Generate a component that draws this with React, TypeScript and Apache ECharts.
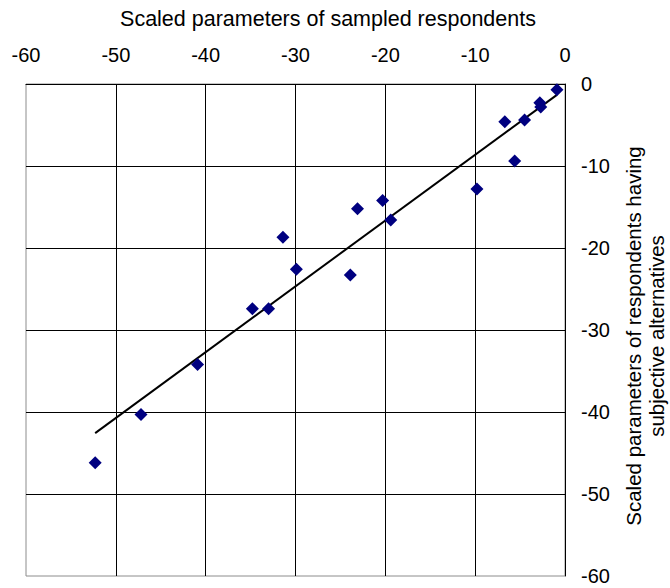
import React, { useEffect, useRef } from "react";
import * as echarts from "echarts";

const xTitle = "Scaled parameters of sampled respondents";
const yTitle = "Scaled parameters of respondents having\nsubjective alternatives";

const xValues = [-52.3, -47.2, -40.9, -34.8, -33.0, -31.4, -29.9, -23.9, -23.1, -20.3, -19.4, -9.8, -6.7, -5.6, -4.5, -2.8, -2.7, -0.9];
const yValues = [-46.2, -40.3, -34.2, -27.4, -27.4, -18.7, -22.6, -23.3, -15.2, -14.2, -16.6, -12.8, -4.6, -9.4, -4.4, -2.3, -2.8, -0.7];

const axisMin = -60;
const axisMax = 0;
const axisStep = 10;

function linearFit(xs: number[], ys: number[]) {
  const n = xs.length;
  const mx = xs.reduce((a, b) => a + b, 0) / n;
  const my = ys.reduce((a, b) => a + b, 0) / n;
  let sxy = 0;
  let sxx = 0;
  for (let i = 0; i < n; i++) {
    sxy += (xs[i] - mx) * (ys[i] - my);
    sxx += (xs[i] - mx) * (xs[i] - mx);
  }
  const slope = sxy / sxx;
  return { slope, intercept: my - slope * mx };
}

export default function App() {
  const ref = useRef<HTMLDivElement>(null);
  useEffect(() => {
    if (!ref.current) return;
    const chart = echarts.init(ref.current, null, { renderer: "svg" });
    const points = xValues.map((x, i) => [x, yValues[i]]);
    const fit = linearFit(xValues, yValues);
    const xLo = Math.min(...xValues);
    const xHi = Math.max(...xValues);
    const trend = [
      [xLo, fit.slope * xLo + fit.intercept],
      [xHi, fit.slope * xHi + fit.intercept],
    ];
    const font = "'Liberation Sans', Arial, sans-serif";
    chart.setOption({
      animation: false,
      backgroundColor: "#ffffff",
      textStyle: { fontFamily: font },
      grid: {
        left: 26,
        right: 105,
        top: 84,
        bottom: 12,
        show: true,
        borderColor: "#8c8c8c",
        borderWidth: 1,
        backgroundColor: "transparent",
      },
      xAxis: {
        type: "value",
        position: "top",
        min: axisMin,
        max: axisMax,
        interval: axisStep,
        axisLine: { show: true, lineStyle: { color: "#000", width: 1 } },
        axisTick: { show: false },
        axisLabel: { color: "#000", fontSize: 20, fontFamily: font, margin: 19 },
        splitLine: { show: true, showMinLine: false, lineStyle: { color: "#000", width: 1 } },
      },
      yAxis: {
        type: "value",
        position: "right",
        min: axisMin,
        max: axisMax,
        interval: axisStep,
        axisLine: { show: true, lineStyle: { color: "#000", width: 1 } },
        axisTick: { show: false },
        axisLabel: { color: "#000", fontSize: 20, fontFamily: font, margin: 16 },
        splitLine: { show: true, showMinLine: false, lineStyle: { color: "#000", width: 1 } },
      },
      graphic: [
        {
          type: "text",
          x: 328,
          y: 19,
          style: {
            text: xTitle,
            fontSize: 21.5,
            fontFamily: font,
            fill: "#000",
            textAlign: "center",
            textVerticalAlign: "middle",
          },
        },
        {
          type: "text",
          x: 645,
          y: 336,
          rotation: Math.PI / 2,
          style: {
            text: yTitle,
            fontSize: 20.5,
            lineHeight: 23,
            fontFamily: font,
            fill: "#000",
            textAlign: "center",
            textVerticalAlign: "middle",
          },
        },
      ],
      series: [
        {
          type: "line",
          data: trend,
          showSymbol: false,
          symbol: "none",
          lineStyle: { color: "#000", width: 2 },
          z: 2,
          silent: true,
        },
        {
          type: "scatter",
          data: points,
          symbol: "diamond",
          symbolSize: 13,
          itemStyle: { color: "#000080", opacity: 1 },
          z: 3,
        },
      ],
    });
    return () => chart.dispose();
  }, []);
  return (
    <div
      ref={ref}
      style={{ position: "fixed", left: 0, top: 0, width: 670, height: 588, background: "#fff" }}
    />
  );
}
